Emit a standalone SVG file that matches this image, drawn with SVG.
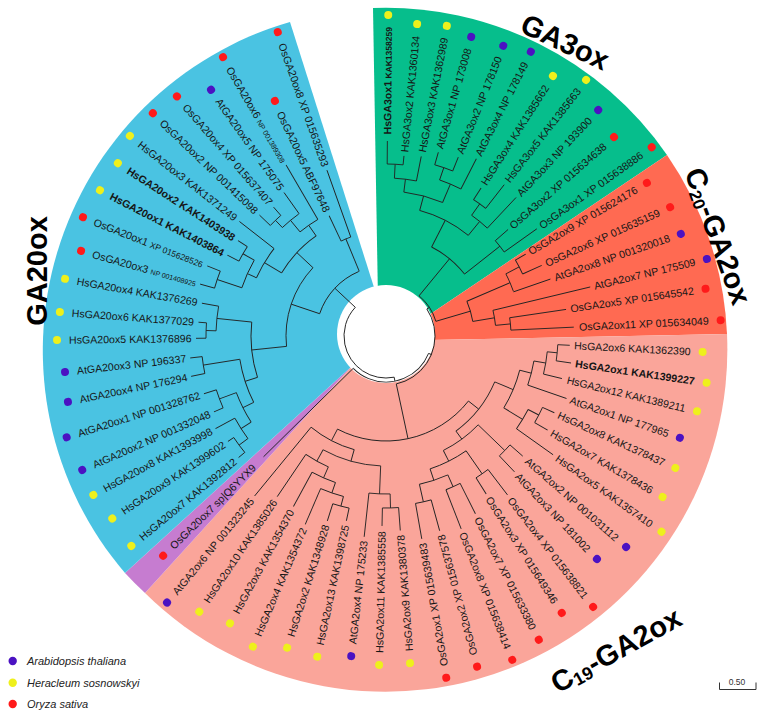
<svg xmlns="http://www.w3.org/2000/svg" width="761" height="715" viewBox="0 0 761 715">
<style>
.t{font-family:"Liberation Sans",Arial,sans-serif;font-size:10.6px;fill:#161616}
.bd{font-weight:bold}
.cl{font-family:"Liberation Sans",Arial,sans-serif;font-size:29px;font-weight:bold;fill:#000}
.lg{font-family:"Liberation Sans",Arial,sans-serif;font-size:11px;font-style:italic;fill:#222}
.at{fill:#4b12c2}.hs{fill:#eef01c}.os{fill:#ff1a1a}
</style>
<rect width="761" height="715" fill="#fff"/>
<g id="sectors">
<path d="M378,300 L373,8 A342,342 0 0 1 667,155 L420,321 Z" fill="#06be8c"/>
<path d="M420,321 L667,155 A342,342 0 0 1 727,334 L430,340 Z" fill="#ff6a52"/>
<path d="M430,340 L727,334 A342,342 0 0 1 145,593 L352,366 Z" fill="#faa59a"/>
<path d="M352,366 L145,593 A342,342 0 0 1 125,573 Z" fill="#c67cd0"/>
<path d="M352,366 L125,573 A342,342 0 0 1 290,22 L378,300 Z" fill="#4ac3e2"/>
<circle cx="386" cy="334" r="49" fill="#fff"/>
</g>
<g id="tree" fill="none" stroke="#222" stroke-width="0.9">
<path d="M558 336H581" transform="rotate(-89.6 386 336)"/>
<path d="M558 336H567" transform="rotate(-84.3 386 336)"/>
<path d="M544 336H569" transform="rotate(-78.9 386 336)"/>
<path d="M564 336H577" transform="rotate(-74.1 386 336)"/>
<path d="M564 336H579" transform="rotate(-68 386 336)"/>
<path d="M551 336H585" transform="rotate(-63 386 336)"/>
<path d="M548 336H562" transform="rotate(-57.3 386 336)"/>
<path d="M548 336H578" transform="rotate(-52 386 336)"/>
<path d="M534 336H576" transform="rotate(-46.8 386 336)"/>
<path d="M531 336H548" transform="rotate(-41.1 386 336)"/>
<path d="M531 336H571" transform="rotate(-35.4 386 336)"/>
<path d="M536 336H548" transform="rotate(-30.4 386 336)"/>
<path d="M536 336H557" transform="rotate(-24.4 386 336)"/>
<path d="M521 336H560" transform="rotate(-19.1 386 336)"/>
<path d="M496 336H596" transform="rotate(-13.5 386 336)"/>
<path d="M511 336H568" transform="rotate(-8.4 386 336)"/>
<path d="M511 336H574" transform="rotate(-2.7 386 336)"/>
<path d="M558 336H570" transform="rotate(2.9 386 336)"/>
<path d="M558 336H573" transform="rotate(8.3 386 336)"/>
<path d="M548 336H567" transform="rotate(13.6 386 336)"/>
<path d="M536 336H577" transform="rotate(19.1 386 336)"/>
<path d="M558 336H571" transform="rotate(24.5 386 336)"/>
<path d="M558 336H573" transform="rotate(30.2 386 336)"/>
<path d="M546 336H591" transform="rotate(35.4 386 336)"/>
<path d="M551 336H568" transform="rotate(41.3 386 336)"/>
<path d="M551 336H573" transform="rotate(46.6 386 336)"/>
<path d="M554 336H586" transform="rotate(52.6 386 336)"/>
<path d="M554 336H573" transform="rotate(57.6 386 336)"/>
<path d="M551 336H585" transform="rotate(63.3 386 336)"/>
<path d="M551 336H593" transform="rotate(68.7 386 336)"/>
<path d="M556 336H588" transform="rotate(74.6 386 336)"/>
<path d="M556 336H592" transform="rotate(80 386 336)"/>
<path d="M558 336H581" transform="rotate(85.8 386 336)"/>
<path d="M558 336H576" transform="rotate(91.2 386 336)"/>
<path d="M544 336H588" transform="rotate(96.2 386 336)"/>
<path d="M562 336H575" transform="rotate(102.1 386 336)"/>
<path d="M562 336H580" transform="rotate(107.6 386 336)"/>
<path d="M552 336H591" transform="rotate(113.2 386 336)"/>
<path d="M541 336H580" transform="rotate(118.5 386 336)"/>
<path d="M529 336H580" transform="rotate(124.1 386 336)"/>
<path d="M504 336H593" transform="rotate(129.4 386 336)"/>
<path d="M432 336H558" transform="rotate(135.4 386 336)"/>
<path d="M569 336H577" transform="rotate(140.5 386 336)"/>
<path d="M569 336H576" transform="rotate(146.3 386 336)"/>
<path d="M558 336H580" transform="rotate(151.5 386 336)"/>
<path d="M564 336H574" transform="rotate(156.2 386 336)"/>
<path d="M564 336H577" transform="rotate(162.4 386 336)"/>
<path d="M571 336H585" transform="rotate(168.3 386 336)"/>
<path d="M571 336H583" transform="rotate(173.6 386 336)"/>
<path d="M566 336H576" transform="rotate(179.3 386 336)"/>
<path d="M566 336H574" transform="rotate(184.2 386 336)"/>
<path d="M556 336H573" transform="rotate(190.1 386 336)"/>
<path d="M564 336H579" transform="rotate(195.6 386 336)"/>
<path d="M564 336H578" transform="rotate(201.4 386 336)"/>
<path d="M551 336H564" transform="rotate(207 386 336)"/>
<path d="M551 336H562" transform="rotate(212.8 386 336)"/>
<path d="M528 336H572" transform="rotate(218 386 336)"/>
<path d="M546 336H561" transform="rotate(223.7 386 336)"/>
<path d="M546 336H557" transform="rotate(228.9 386 336)"/>
<path d="M536 336H562" transform="rotate(234.6 386 336)"/>
<path d="M521 336H584" transform="rotate(239.7 386 336)"/>
<path d="M491 336H519" transform="rotate(244.7 386 336)"/>
<path d="M491 336H562" transform="rotate(250.4 386 336)"/>
<path d="M544 336H558" transform="rotate(-86.95 386 336)"/>
<path d="M531 336H544" transform="rotate(-82.93 386 336)"/>
<path d="M551 336H564" transform="rotate(-71.05 386 336)"/>
<path d="M531 336H551" transform="rotate(-67.03 386 336)"/>
<path d="M516 336H531" transform="rotate(-74.98 386 336)"/>
<path d="M534 336H548" transform="rotate(-54.65 386 336)"/>
<path d="M516 336H534" transform="rotate(-50.73 386 336)"/>
<path d="M486 336H516" transform="rotate(-62.86 386 336)"/>
<path d="M486 336H531" transform="rotate(-38.25 386 336)"/>
<path d="M438 336H486" transform="rotate(-50.56 386 336)"/>
<path d="M521 336H536" transform="rotate(-27.4 386 336)"/>
<path d="M474 336H521" transform="rotate(-23.25 386 336)"/>
<path d="M496 336H511" transform="rotate(-5.55 386 336)"/>
<path d="M474 336H496" transform="rotate(-9.53 386 336)"/>
<path d="M438 336H474" transform="rotate(-16.39 386 336)"/>
<path d="M435 336H438" transform="rotate(-33.48 386 336)"/>
<path d="M548 336H558" transform="rotate(5.6 386 336)"/>
<path d="M536 336H548" transform="rotate(9.6 386 336)"/>
<path d="M524 336H536" transform="rotate(14.35 386 336)"/>
<path d="M546 336H558" transform="rotate(27.35 386 336)"/>
<path d="M524 336H546" transform="rotate(31.38 386 336)"/>
<path d="M504 336H524" transform="rotate(22.87 386 336)"/>
<path d="M514 336H551" transform="rotate(43.95 386 336)"/>
<path d="M526 336H554" transform="rotate(55.1 386 336)"/>
<path d="M538 336H551" transform="rotate(66 386 336)"/>
<path d="M538 336H556" transform="rotate(77.3 386 336)"/>
<path d="M526 336H538" transform="rotate(71.65 386 336)"/>
<path d="M514 336H526" transform="rotate(63.38 386 336)"/>
<path d="M504 336H514" transform="rotate(53.66 386 336)"/>
<path d="M491 336H504" transform="rotate(38.27 386 336)"/>
<path d="M544 336H558" transform="rotate(88.5 386 336)"/>
<path d="M516 336H544" transform="rotate(92.35 386 336)"/>
<path d="M552 336H562" transform="rotate(104.85 386 336)"/>
<path d="M541 336H552" transform="rotate(109.03 386 336)"/>
<path d="M529 336H541" transform="rotate(113.77 386 336)"/>
<path d="M516 336H529" transform="rotate(118.93 386 336)"/>
<path d="M504 336H516" transform="rotate(105.64 386 336)"/>
<path d="M491 336H504" transform="rotate(117.52 386 336)"/>
<path d="M435 336H491" transform="rotate(77.9 386 336)"/>
<path d="M432 336H435" transform="rotate(22.21 386 336)"/>
<path d="M428 336H432" transform="rotate(78.8 386 336)"/>
<path d="M558 336H569" transform="rotate(143.4 386 336)"/>
<path d="M546 336H558" transform="rotate(147.45 386 336)"/>
<path d="M546 336H564" transform="rotate(159.3 386 336)"/>
<path d="M534 336H546" transform="rotate(153.38 386 336)"/>
<path d="M534 336H571" transform="rotate(170.95 386 336)"/>
<path d="M521 336H534" transform="rotate(162.16 386 336)"/>
<path d="M556 336H566" transform="rotate(181.75 386 336)"/>
<path d="M521 336H556" transform="rotate(185.93 386 336)"/>
<path d="M486 336H521" transform="rotate(174.05 386 336)"/>
<path d="M538 336H564" transform="rotate(198.5 386 336)"/>
<path d="M538 336H551" transform="rotate(209.9 386 336)"/>
<path d="M528 336H538" transform="rotate(204.2 386 336)"/>
<path d="M508 336H528" transform="rotate(211.1 386 336)"/>
<path d="M536 336H546" transform="rotate(226.3 386 336)"/>
<path d="M521 336H536" transform="rotate(230.45 386 336)"/>
<path d="M508 336H521" transform="rotate(235.08 386 336)"/>
<path d="M486 336H508" transform="rotate(223.09 386 336)"/>
<path d="M456 336H486" transform="rotate(198.57 386 336)"/>
<path d="M456 336H491" transform="rotate(247.55 386 336)"/>
<path d="M428 336H456" transform="rotate(223.06 386 336)"/>
<circle cx="386" cy="336" r="172" pathLength="360" stroke-dasharray="5.3 360" transform="rotate(-89.6 386 336)"/>
<circle cx="386" cy="336" r="158" pathLength="360" stroke-dasharray="8.05 360" transform="rotate(-86.95 386 336)"/>
<circle cx="386" cy="336" r="178" pathLength="360" stroke-dasharray="6.1 360" transform="rotate(-74.1 386 336)"/>
<circle cx="386" cy="336" r="165" pathLength="360" stroke-dasharray="8.05 360" transform="rotate(-71.05 386 336)"/>
<circle cx="386" cy="336" r="145" pathLength="360" stroke-dasharray="15.9 360" transform="rotate(-82.93 386 336)"/>
<circle cx="386" cy="336" r="162" pathLength="360" stroke-dasharray="5.3 360" transform="rotate(-57.3 386 336)"/>
<circle cx="386" cy="336" r="148" pathLength="360" stroke-dasharray="7.85 360" transform="rotate(-54.65 386 336)"/>
<circle cx="386" cy="336" r="130" pathLength="360" stroke-dasharray="24.25 360" transform="rotate(-74.98 386 336)"/>
<circle cx="386" cy="336" r="145" pathLength="360" stroke-dasharray="5.7 360" transform="rotate(-41.1 386 336)"/>
<circle cx="386" cy="336" r="100" pathLength="360" stroke-dasharray="24.61 360" transform="rotate(-62.86 386 336)"/>
<circle cx="386" cy="336" r="150" pathLength="360" stroke-dasharray="6 360" transform="rotate(-30.4 386 336)"/>
<circle cx="386" cy="336" r="135" pathLength="360" stroke-dasharray="8.15 360" transform="rotate(-27.4 386 336)"/>
<circle cx="386" cy="336" r="125" pathLength="360" stroke-dasharray="5.7 360" transform="rotate(-8.4 386 336)"/>
<circle cx="386" cy="336" r="110" pathLength="360" stroke-dasharray="7.95 360" transform="rotate(-13.5 386 336)"/>
<circle cx="386" cy="336" r="88" pathLength="360" stroke-dasharray="13.72 360" transform="rotate(-23.25 386 336)"/>
<circle cx="386" cy="336" r="52" pathLength="360" stroke-dasharray="34.17 360" transform="rotate(-50.56 386 336)"/>
<circle cx="386" cy="336" r="172" pathLength="360" stroke-dasharray="5.4 360" transform="rotate(2.9 386 336)"/>
<circle cx="386" cy="336" r="162" pathLength="360" stroke-dasharray="8 360" transform="rotate(5.6 386 336)"/>
<circle cx="386" cy="336" r="150" pathLength="360" stroke-dasharray="9.5 360" transform="rotate(9.6 386 336)"/>
<circle cx="386" cy="336" r="172" pathLength="360" stroke-dasharray="5.7 360" transform="rotate(24.5 386 336)"/>
<circle cx="386" cy="336" r="160" pathLength="360" stroke-dasharray="8.05 360" transform="rotate(27.35 386 336)"/>
<circle cx="386" cy="336" r="138" pathLength="360" stroke-dasharray="17.03 360" transform="rotate(14.35 386 336)"/>
<circle cx="386" cy="336" r="165" pathLength="360" stroke-dasharray="5.3 360" transform="rotate(41.3 386 336)"/>
<circle cx="386" cy="336" r="168" pathLength="360" stroke-dasharray="5 360" transform="rotate(52.6 386 336)"/>
<circle cx="386" cy="336" r="165" pathLength="360" stroke-dasharray="5.4 360" transform="rotate(63.3 386 336)"/>
<circle cx="386" cy="336" r="170" pathLength="360" stroke-dasharray="5.4 360" transform="rotate(74.6 386 336)"/>
<circle cx="386" cy="336" r="152" pathLength="360" stroke-dasharray="11.3 360" transform="rotate(66 386 336)"/>
<circle cx="386" cy="336" r="140" pathLength="360" stroke-dasharray="16.55 360" transform="rotate(55.1 386 336)"/>
<circle cx="386" cy="336" r="128" pathLength="360" stroke-dasharray="19.43 360" transform="rotate(43.95 386 336)"/>
<circle cx="386" cy="336" r="118" pathLength="360" stroke-dasharray="30.79 360" transform="rotate(22.87 386 336)"/>
<circle cx="386" cy="336" r="172" pathLength="360" stroke-dasharray="5.4 360" transform="rotate(85.8 386 336)"/>
<circle cx="386" cy="336" r="158" pathLength="360" stroke-dasharray="7.7 360" transform="rotate(88.5 386 336)"/>
<circle cx="386" cy="336" r="176" pathLength="360" stroke-dasharray="5.5 360" transform="rotate(102.1 386 336)"/>
<circle cx="386" cy="336" r="166" pathLength="360" stroke-dasharray="8.35 360" transform="rotate(104.85 386 336)"/>
<circle cx="386" cy="336" r="155" pathLength="360" stroke-dasharray="9.47 360" transform="rotate(109.03 386 336)"/>
<circle cx="386" cy="336" r="143" pathLength="360" stroke-dasharray="10.33 360" transform="rotate(113.77 386 336)"/>
<circle cx="386" cy="336" r="130" pathLength="360" stroke-dasharray="26.58 360" transform="rotate(92.35 386 336)"/>
<circle cx="386" cy="336" r="118" pathLength="360" stroke-dasharray="23.76 360" transform="rotate(105.64 386 336)"/>
<circle cx="386" cy="336" r="105" pathLength="360" stroke-dasharray="79.25 360" transform="rotate(38.27 386 336)"/>
<circle cx="386" cy="336" r="49" pathLength="360" stroke-dasharray="111.38 360" transform="rotate(-33.48 386 336)"/>
<circle cx="386" cy="336" r="46" pathLength="360" stroke-dasharray="113.19 360" transform="rotate(22.21 386 336)"/>
<circle cx="386" cy="336" r="183" pathLength="360" stroke-dasharray="5.8 360" transform="rotate(140.5 386 336)"/>
<circle cx="386" cy="336" r="172" pathLength="360" stroke-dasharray="8.05 360" transform="rotate(143.4 386 336)"/>
<circle cx="386" cy="336" r="178" pathLength="360" stroke-dasharray="6.2 360" transform="rotate(156.2 386 336)"/>
<circle cx="386" cy="336" r="160" pathLength="360" stroke-dasharray="11.85 360" transform="rotate(147.45 386 336)"/>
<circle cx="386" cy="336" r="185" pathLength="360" stroke-dasharray="5.3 360" transform="rotate(168.3 386 336)"/>
<circle cx="386" cy="336" r="148" pathLength="360" stroke-dasharray="17.57 360" transform="rotate(153.38 386 336)"/>
<circle cx="386" cy="336" r="180" pathLength="360" stroke-dasharray="4.9 360" transform="rotate(179.3 386 336)"/>
<circle cx="386" cy="336" r="170" pathLength="360" stroke-dasharray="8.35 360" transform="rotate(181.75 386 336)"/>
<circle cx="386" cy="336" r="135" pathLength="360" stroke-dasharray="23.77 360" transform="rotate(162.16 386 336)"/>
<circle cx="386" cy="336" r="178" pathLength="360" stroke-dasharray="5.8 360" transform="rotate(195.6 386 336)"/>
<circle cx="386" cy="336" r="165" pathLength="360" stroke-dasharray="5.8 360" transform="rotate(207 386 336)"/>
<circle cx="386" cy="336" r="152" pathLength="360" stroke-dasharray="11.4 360" transform="rotate(198.5 386 336)"/>
<circle cx="386" cy="336" r="142" pathLength="360" stroke-dasharray="13.8 360" transform="rotate(204.2 386 336)"/>
<circle cx="386" cy="336" r="160" pathLength="360" stroke-dasharray="5.2 360" transform="rotate(223.7 386 336)"/>
<circle cx="386" cy="336" r="150" pathLength="360" stroke-dasharray="8.15 360" transform="rotate(226.3 386 336)"/>
<circle cx="386" cy="336" r="135" pathLength="360" stroke-dasharray="9.25 360" transform="rotate(230.45 386 336)"/>
<circle cx="386" cy="336" r="122" pathLength="360" stroke-dasharray="23.98 360" transform="rotate(211.1 386 336)"/>
<circle cx="386" cy="336" r="100" pathLength="360" stroke-dasharray="49.04 360" transform="rotate(174.05 386 336)"/>
<circle cx="386" cy="336" r="105" pathLength="360" stroke-dasharray="5.7 360" transform="rotate(244.7 386 336)"/>
<circle cx="386" cy="336" r="70" pathLength="360" stroke-dasharray="48.49 360" transform="rotate(198.57 386 336)"/>
<circle cx="386" cy="336" r="42" pathLength="360" stroke-dasharray="144.26 360" transform="rotate(78.8 386 336)"/>
</g>
<g id="leaves">
<g id="HsGA3ox1" transform="rotate(-89.6 386 336)"><text class="t" x="695" y="339.8" text-anchor="end"><tspan class="bd">HsGA3ox1</tspan><tspan class="bd" font-size="8.5"> KAK1358259</tspan></text><circle class="hs" cx="707" cy="336" r="4"/></g>
<g id="HsGA3ox2" transform="rotate(-84.3 386 336)"><text class="t" x="687.5" y="339.8" text-anchor="end">HsGA3ox2 KAK1360134</text><circle class="hs" cx="699.5" cy="336" r="4"/></g>
<g id="HsGA3ox3" transform="rotate(-78.9 386 336)"><text class="t" x="690" y="339.8" text-anchor="end">HsGA3ox3 KAK1362989</text><circle class="hs" cx="702" cy="336" r="4"/></g>
<g id="AtGA3ox1" transform="rotate(-74.1 386 336)"><text class="t" x="685" y="339.8" text-anchor="end">AtGA3ox1 NP 173008</text><circle class="at" cx="697" cy="336" r="4"/></g>
<g id="AtGA3ox2" transform="rotate(-68 386 336)"><text class="t" x="687" y="339.8" text-anchor="end">AtGA3ox2 NP 178150</text><circle class="at" cx="699" cy="336" r="4"/></g>
<g id="AtGA3ox4" transform="rotate(-63 386 336)"><text class="t" x="693" y="339.8" text-anchor="end">AtGA3ox4 NP 178149</text><circle class="at" cx="705" cy="336" r="4"/></g>
<g id="HsGA3ox4" transform="rotate(-57.3 386 336)"><text class="t" x="683" y="339.8" text-anchor="end">HsGA3ox4 KAK1385662</text><circle class="hs" cx="695" cy="336" r="4"/></g>
<g id="HsGA3ox5" transform="rotate(-52 386 336)"><text class="t" x="699" y="339.8" text-anchor="end">HsGA3ox5 KAK1385663</text><circle class="hs" cx="711" cy="336" r="4"/></g>
<g id="AtGA3ox3" transform="rotate(-46.8 386 336)"><text class="t" x="684" y="339.8" text-anchor="end">AtGA3ox3 NP 193900</text><circle class="at" cx="696" cy="336" r="4"/></g>
<g id="OsGA3ox2" transform="rotate(-41.1 386 336)"><text class="t" x="676.6" y="339.8" text-anchor="end">OsGA3ox2 XP 015634638</text><circle class="os" cx="688.6" cy="336" r="4"/></g>
<g id="OsGA3ox1" transform="rotate(-35.4 386 336)"><text class="t" x="700" y="339.8" text-anchor="end">OsGA3ox1 XP 015638886</text><circle class="os" cx="712" cy="336" r="4"/></g>
<g id="OsGA2ox9" transform="rotate(-30.4 386 336)"><text class="t" x="676.5" y="339.8" text-anchor="end">OsGA2ox9 XP 015624176</text><circle class="os" cx="688.5" cy="336" r="4"/></g>
<g id="OsGA2ox6" transform="rotate(-24.4 386 336)"><text class="t" x="686" y="339.8" text-anchor="end">OsGA2ox6 XP 015635159</text><circle class="os" cx="698" cy="336" r="4"/></g>
<g id="AtGA2ox8" transform="rotate(-19.1 386 336)"><text class="t" x="686" y="339.8" text-anchor="end">AtGA2ox8 NP 001320018</text><circle class="at" cx="698" cy="336" r="4"/></g>
<g id="AtGA2ox7" transform="rotate(-13.5 386 336)"><text class="t" x="704" y="339.8" text-anchor="end">AtGA2ox7 NP 175509</text><circle class="at" cx="716" cy="336" r="4"/></g>
<g id="OsGA2ox5" transform="rotate(-8.4 386 336)"><text class="t" x="697" y="339.8" text-anchor="end">OsGA2ox5 XP 015645542</text><circle class="os" cx="709" cy="336" r="4"/></g>
<g id="OsGA2ox11" transform="rotate(-2.7 386 336)"><text class="t" x="709" y="339.8" text-anchor="end">OsGA2ox11 XP 015634049</text><circle class="os" cx="721" cy="336" r="4"/></g>
<g id="HsGA2ox6" transform="rotate(2.9 386 336)"><text class="t" x="691" y="339.8" text-anchor="end">HsGA2ox6 KAK1362390</text><circle class="hs" cx="703" cy="336" r="4"/></g>
<g id="HsGA2ox1" transform="rotate(8.3 386 336)"><text class="t bd" x="698" y="339.8" text-anchor="end">HsGA2ox1 KAK1399227</text><circle class="hs" cx="710" cy="336" r="4"/></g>
<g id="HsGA2ox12" transform="rotate(13.6 386 336)"><text class="t" x="694" y="339.8" text-anchor="end">HsGA2ox12 KAK1389211</text><circle class="hs" cx="706" cy="336" r="4"/></g>
<g id="AtGA2ox1" transform="rotate(19.1 386 336)"><text class="t" x="685" y="339.8" text-anchor="end">AtGA2ox1 NP 177965</text><circle class="at" cx="697" cy="336" r="4"/></g>
<g id="HsGA2ox8" transform="rotate(24.5 386 336)"><text class="t" x="692" y="339.8" text-anchor="end">HsGA2ox8 KAK1378437</text><circle class="hs" cx="704" cy="336" r="4"/></g>
<g id="HsGA2ox7" transform="rotate(30.2 386 336)"><text class="t" x="694" y="339.8" text-anchor="end">HsGA2ox7 KAK1378436</text><circle class="hs" cx="706" cy="336" r="4"/></g>
<g id="HsGA2ox5" transform="rotate(35.4 386 336)"><text class="t" x="712" y="339.8" text-anchor="end">HsGA2ox5 KAK1357410</text><circle class="hs" cx="724" cy="336" r="4"/></g>
<g id="AtGA2ox2" transform="rotate(41.3 386 336)"><text class="t" x="693.6" y="339.8" text-anchor="end">AtGA2ox2 NP 001031112</text><circle class="at" cx="705.6" cy="336" r="4"/></g>
<g id="AtGA2ox3" transform="rotate(46.6 386 336)"><text class="t" x="681" y="339.8" text-anchor="end">AtGA2ox3 NP 181002</text><circle class="at" cx="693" cy="336" r="4"/></g>
<g id="OsGA2ox4" transform="rotate(52.6 386 336)"><text class="t" x="715" y="339.8" text-anchor="end">OsGA2ox4 XP 015638821</text><circle class="os" cx="727" cy="336" r="4"/></g>
<g id="OsGA2ox3" transform="rotate(57.6 386 336)"><text class="t" x="702" y="339.8" text-anchor="end">OsGA2ox3 XP 015649346</text><circle class="os" cx="714" cy="336" r="4"/></g>
<g id="OsGA2ox7" transform="rotate(63.3 386 336)"><text class="t" x="714" y="339.8" text-anchor="end">OsGA2ox7 XP 015633380</text><circle class="os" cx="726" cy="336" r="4"/></g>
<g id="OsGA2ox8" transform="rotate(68.7 386 336)"><text class="t" x="721.6" y="339.8" text-anchor="end">OsGA2ox8 XP 015638414</text><circle class="os" cx="733.6" cy="336" r="4"/></g>
<g id="OsGA2ox2" transform="rotate(74.6 386 336)"><text class="t" x="717" y="339.8" transform="rotate(180 717 336)">OsGA2ox2 XP 015637578</text><circle class="os" cx="729" cy="336" r="4"/></g>
<g id="OsGA2ox1" transform="rotate(80 386 336)"><text class="t" x="721" y="339.8" transform="rotate(180 721 336)">OsGA2ox1 XP 015639483</text><circle class="os" cx="733" cy="336" r="4"/></g>
<g id="HsGA2ox9" transform="rotate(85.8 386 336)"><text class="t" x="702" y="339.8" transform="rotate(180 702 336)">HsGA2ox9 KAK1380378</text><circle class="hs" cx="714" cy="336" r="4"/></g>
<g id="HsGA2ox11" transform="rotate(91.2 386 336)"><text class="t" x="703" y="339.8" transform="rotate(180 703 336)">HsGA2ox11 KAK1385558</text><circle class="hs" cx="715" cy="336" r="4"/></g>
<g id="AtGA2ox4" transform="rotate(96.2 386 336)"><text class="t" x="696" y="339.8" transform="rotate(180 696 336)">AtGA2ox4 NP 175233</text><circle class="at" cx="708" cy="336" r="4"/></g>
<g id="HsGA2ox13" transform="rotate(102.1 386 336)"><text class="t" x="702" y="339.8" transform="rotate(180 702 336)">HsGA2ox13 KAK1398725</text><circle class="hs" cx="714" cy="336" r="4"/></g>
<g id="HsGA2ox2" transform="rotate(107.6 386 336)"><text class="t" x="701" y="339.8" transform="rotate(180 701 336)">HsGA2ox2 KAK1348928</text><circle class="hs" cx="713" cy="336" r="4"/></g>
<g id="HsGA2ox4" transform="rotate(113.2 386 336)"><text class="t" x="712" y="339.8" transform="rotate(180 712 336)">HsGA2ox4 KAK1354372</text><circle class="hs" cx="724" cy="336" r="4"/></g>
<g id="HsGA2ox3" transform="rotate(118.5 386 336)"><text class="t" x="701" y="339.8" transform="rotate(180 701 336)">HsGA2ox3 KAK1354370</text><circle class="hs" cx="713" cy="336" r="4"/></g>
<g id="HsGA2ox10" transform="rotate(124.1 386 336)"><text class="t" x="707" y="339.8" transform="rotate(180 707 336)">HsGA2ox10 KAK1385026</text><circle class="hs" cx="719" cy="336" r="4"/></g>
<g id="AtGA2ox6" transform="rotate(129.4 386 336)"><text class="t" x="719" y="339.8" transform="rotate(180 719 336)">AtGA2ox6 NP 001323245</text><circle class="at" cx="731" cy="336" r="4"/></g>
<g id="OsGA20ox7" transform="rotate(135.4 386 336)"><text class="t" x="687" y="339.8" transform="rotate(180 687 336)">OsGA20ox7 sp|Q6YYX9</text><circle class="os" cx="699" cy="336" r="4"/></g>
<g id="HsGA20ox7" transform="rotate(140.5 386 336)"><text class="t" x="704" y="339.8" transform="rotate(180 704 336)">HsGA20ox7 KAK1392812</text><circle class="hs" cx="716" cy="336" r="4"/></g>
<g id="HsGA20ox9" transform="rotate(146.3 386 336)"><text class="t" x="703" y="339.8" transform="rotate(180 703 336)">HsGA20ox9 KAK1399602</text><circle class="hs" cx="715" cy="336" r="4"/></g>
<g id="HsGA20ox8" transform="rotate(151.5 386 336)"><text class="t" x="707" y="339.8" transform="rotate(180 707 336)">HsGA20ox8 KAK1393998</text><circle class="hs" cx="719" cy="336" r="4"/></g>
<g id="AtGA20ox2" transform="rotate(156.2 386 336)"><text class="t" x="706" y="339.8" transform="rotate(180 706 336)">AtGA20ox2 NP 001332048</text><circle class="at" cx="718" cy="336" r="4"/></g>
<g id="AtGA20ox1" transform="rotate(162.4 386 336)"><text class="t" x="709" y="339.8" transform="rotate(180 709 336)">AtGA20ox1 NP 001328762</text><circle class="at" cx="721" cy="336" r="4"/></g>
<g id="AtGA20ox4" transform="rotate(168.3 386 336)"><text class="t" x="698.8" y="339.8" transform="rotate(180 698.8 336)">AtGA20ox4 NP 176294</text><circle class="at" cx="710.8" cy="336" r="4"/></g>
<g id="AtGA20ox3" transform="rotate(173.6 386 336)"><text class="t" x="697" y="339.8" transform="rotate(180 697 336)">AtGA20ox3 NP 196337</text><circle class="at" cx="709" cy="336" r="4"/></g>
<g id="HsGA20ox5" transform="rotate(179.3 386 336)"><text class="t" x="703" y="339.8" transform="rotate(180 703 336)">HsGA20ox5 KAK1376896</text><circle class="hs" cx="715" cy="336" r="4"/></g>
<g id="HsGA20ox6" transform="rotate(184.2 386 336)"><text class="t" x="701" y="339.8" transform="rotate(180 701 336)">HsGA20ox6 KAK1377029</text><circle class="hs" cx="713" cy="336" r="4"/></g>
<g id="HsGA20ox4" transform="rotate(190.1 386 336)"><text class="t" x="700" y="339.8" transform="rotate(180 700 336)">HsGA20ox4 KAK1376269</text><circle class="hs" cx="712" cy="336" r="4"/></g>
<g id="OsGA20ox3" transform="rotate(195.6 386 336)"><text class="t" x="690.6" y="339.8" transform="rotate(180 690.6 336)">OsGA20ox3 <tspan font-size="7">NP 001408925</tspan></text><circle class="os" cx="702.6" cy="336" r="4"/></g>
<g id="OsGA20ox1" transform="rotate(201.4 386 336)"><text class="t" x="699.5" y="339.8" transform="rotate(180 699.5 336)">OsGA20ox1 <tspan font-size="8.5">XP 015628526</tspan></text><circle class="os" cx="711.5" cy="336" r="4"/></g>
<g id="HsGA20ox1" transform="rotate(207 386 336)"><text class="t bd" x="695" y="339.8" transform="rotate(180 695 336)">HsGA20ox1 KAK1403864</text><circle class="hs" cx="707" cy="336" r="4"/></g>
<g id="HsGA20ox2" transform="rotate(212.8 386 336)"><text class="t bd" x="693" y="339.8" transform="rotate(180 693 336)">HsGA20ox2 KAK1403938</text><circle class="hs" cx="705" cy="336" r="4"/></g>
<g id="HsGA20ox3" transform="rotate(218 386 336)"><text class="t" x="699" y="339.8" transform="rotate(180 699 336)">HsGA20ox3 KAK1371249</text><circle class="hs" cx="711" cy="336" r="4"/></g>
<g id="OsGA20ox2" transform="rotate(223.7 386 336)"><text class="t" x="696.5" y="339.8" transform="rotate(180 696.5 336)">OsGA20ox2 NP 001415098</text><circle class="os" cx="708.5" cy="336" r="4"/></g>
<g id="OsGA20ox4" transform="rotate(228.9 386 336)"><text class="t" x="692" y="339.8" transform="rotate(180 692 336)">OsGA20ox4 XP 015637407</text><circle class="os" cx="704" cy="336" r="4"/></g>
<g id="AtGA20ox5" transform="rotate(234.6 386 336)"><text class="t" x="676" y="339.8" transform="rotate(180 676 336)">AtGA20ox5 NP 175075</text><circle class="at" cx="688" cy="336" r="4"/></g>
<g id="OsGA20ox6" transform="rotate(239.7 386 336)"><text class="t" x="697" y="339.8" transform="rotate(180 697 336)">OsGA20ox6 <tspan font-size="7.3">NP 001389308</tspan></text><circle class="os" cx="709" cy="336" r="4"/></g>
<g id="OsGA20ox5" transform="rotate(244.7 386 336)"><text class="t" x="634" y="339.8" transform="rotate(180 634 336)">OsGA20ox5 ABF97648</text><circle class="os" cx="646" cy="336" r="4"/></g>
<g id="OsGA20ox8" transform="rotate(250.4 386 336)"><text class="t" x="696.6" y="339.8" transform="rotate(180 696.6 336)">OsGA20ox8 XP 015635293</text><circle class="os" cx="708.6" cy="336" r="4"/></g>
</g>
<g id="clade-labels">
<text class="cl" x="565" y="42" text-anchor="middle" dominant-baseline="central" transform="rotate(25 565 42)">GA3ox</text>
<text class="cl" x="718" y="236" font-size="28" text-anchor="middle" dominant-baseline="central" transform="rotate(70 718 236)">C<tspan font-size="17" dy="7">20</tspan><tspan dy="-7">-GA2ox</tspan></text>
<text class="cl" x="37" y="271" text-anchor="middle" dominant-baseline="central" transform="rotate(-90 37 271)">GA20ox</text>
<text class="cl" x="616" y="650" text-anchor="middle" dominant-baseline="central" transform="rotate(-29 616 650)">C<tspan font-size="18" dy="7">19</tspan><tspan dy="-7">-GA2ox</tspan></text>
</g>
<g id="legend">
<circle class="at" cx="12.7" cy="661" r="4.2"/><text class="lg" x="27" y="665">Arabidopsis thaliana</text>
<circle class="hs" cx="12.7" cy="682.7" r="4.2"/><text class="lg" x="27" y="686.7">Heracleum sosnowskyi</text>
<circle class="os" cx="12.7" cy="704" r="4.2"/><text class="lg" x="27" y="708">Oryza sativa</text>
</g>
<g id="scale-bar">
<path d="M719.5 682.5V689.5H756V682.5" fill="none" stroke="#333" stroke-width="1"/>
<text x="737" y="685" text-anchor="middle" font-family="Liberation Sans, Arial, sans-serif" font-size="8.5" fill="#333">0.50</text>
</g>
</svg>
